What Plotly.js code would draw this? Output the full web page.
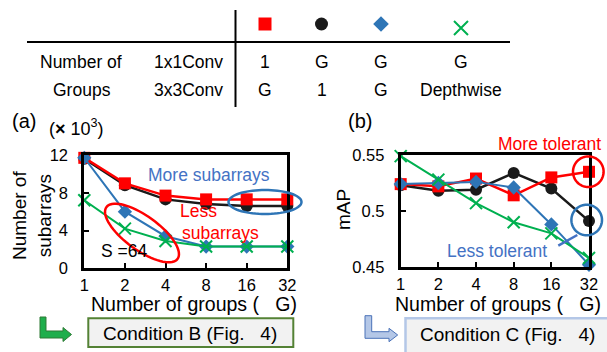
<!DOCTYPE html>
<html>
<head>
<meta charset="utf-8">
<script src="https://cdn.plot.ly/plotly-3.0.1.min.js"></script>
<style>html,body{margin:0;padding:0;background:#fff;}#chart{width:607px;height:352px;}</style>
</head>
<body>
<div id="chart"></div>
<script>
// ---------------- data ----------------
const groups = [1, 2, 4, 8, 16, 32];
const groupTickText = ['1', '2', '4', '8', '16', '32'];

// (a) number of subarrays (x 10^3)
const subarraysRed   = [11.7, 9.0, 7.7, 7.3, 7.3, 7.3];
const subarraysBlack = [11.6, 8.8, 7.3, 6.8, 6.6, 6.6];
const subarraysBlue  = [11.7, 6.0, 3.4, 2.3, 2.3, 2.3];
const subarraysGreen = [7.2, 4.2, 2.9, 2.3, 2.3, 2.3];
const subarrayTicks  = [0, 4, 8, 12];

// (b) mAP
const mapRed   = [0.524, 0.522, 0.529, 0.514, 0.530, 0.535];
const mapBlack = [0.523, 0.518, 0.519, 0.534, 0.520, 0.491];
const mapBlue  = [0.524, 0.525, 0.526, 0.521, 0.488, 0.452];
const mapGreen = [0.549, 0.528, 0.507, 0.490, 0.480, 0.458];
const mapTicks     = [0.45, 0.5, 0.55];
const mapTickText  = ['0.45', '0.5', '0.55'];

// configuration table
const rowLabels   = ['Number of', 'Groups'];
const convLabels  = ['1x1Conv', '3x3Conv'];
const groups1x1   = ['1', 'G', 'G', 'G'];
const groups3x3   = ['G', '1', 'G', 'Depthwise'];

// ---------------- layout helpers ----------------
const W = 607, H = 352;
const px = x => x / W;
const py = y => 1 - y / H;
const FONT = 'Liberation Sans, Arial, sans-serif';

const RED = '#ff0000', BLACK = '#1a1a1a', BLUE = '#2e75b6', GREEN = '#00b050', TXTBLUE = '#4472c4';

const styles = [
  {name: 'red',   color: RED,   symbol: 'square',  size: 12, lw: 2.5},
  {name: 'black', color: BLACK, symbol: 'circle',  size: 12, lw: 2.5},
  {name: 'blue',  color: BLUE,  symbol: 'diamond', size: 11, lw: 2},
  {name: 'green', color: GREEN, symbol: 'x-thin',  size: 12, lw: 2}
];
const drawOrder = [1, 0, 2, 3];

function markerFor(s, size) {
  if (s.symbol === 'x-thin') return {symbol: 'x-thin', size: size, color: s.color, line: {color: s.color, width: 2}};
  return {symbol: s.symbol, size: size, color: s.color, line: {width: 0}};
}

const subSeries = [subarraysRed, subarraysBlack, subarraysBlue, subarraysGreen];
const mapSeries = [mapRed, mapBlack, mapBlue, mapGreen];

const traces = [];
drawOrder.forEach(i => {
  const s = styles[i];
  traces.push({x: groups, y: subSeries[i], type: 'scatter', mode: 'lines+markers', xaxis: 'x', yaxis: 'y',
    line: {color: s.color, width: s.lw}, marker: markerFor(s, s.size), cliponaxis: false, showlegend: false, hoverinfo: 'skip'});
});
drawOrder.forEach(i => {
  const s = styles[i];
  traces.push({x: groups, y: mapSeries[i], type: 'scatter', mode: 'lines+markers', xaxis: 'x2', yaxis: 'y2',
    line: {color: s.color, width: s.lw}, marker: markerFor(s, s.size), cliponaxis: false, showlegend: false, hoverinfo: 'skip'});
});

// table key markers (on a hidden pixel axis)
const colX = [265, 321.5, 381, 461];
const keyY = [24, 24, 24, 28];
const keySize = [13, 13, 12, 14];
styles.forEach((s, i) => {
  traces.push({x: [colX[i]], y: [keyY[i]], type: 'scatter', mode: 'markers', xaxis: 'x3', yaxis: 'y3',
    marker: markerFor(s, keySize[i]), cliponaxis: false, showlegend: false, hoverinfo: 'skip'});
});

// ---------------- shapes ----------------
function polyPath(pts) {
  return 'M' + pts.map(p => px(p[0]).toFixed(5) + ',' + py(p[1]).toFixed(5)).join('L') + 'Z';
}
function ellipsePath(cx, cy, a, b, deg) {
  const th = deg * Math.PI / 180, pts = [];
  for (let k = 0; k < 72; k++) {
    const t = 2 * Math.PI * k / 72;
    pts.push([cx + a * Math.cos(th) * Math.cos(t) - b * Math.sin(th) * Math.sin(t),
              cy + a * Math.sin(th) * Math.cos(t) + b * Math.cos(th) * Math.sin(t)]);
  }
  return polyPath(pts);
}
const shapes = [
  // table lines
  {type: 'line', xref: 'paper', yref: 'paper', x0: px(27), x1: px(510), y0: py(42), y1: py(42), line: {color: '#000', width: 2}},
  {type: 'line', xref: 'paper', yref: 'paper', x0: px(235.5), x1: px(235.5), y0: py(10), y1: py(107), line: {color: '#000', width: 2}},
  // highlight ellipses
  {type: 'path', xref: 'paper', yref: 'paper', path: ellipsePath(142, 233, 44, 17, 36), line: {color: RED, width: 2.5}},
  {type: 'path', xref: 'paper', yref: 'paper', path: ellipsePath(265, 202, 36.5, 12, 0), line: {color: BLUE, width: 2.5}},
  {type: 'path', xref: 'paper', yref: 'paper', path: ellipsePath(588.3, 171.7, 15.3, 15.3, 0), line: {color: RED, width: 2.5}},
  {type: 'path', xref: 'paper', yref: 'paper', path: ellipsePath(586.7, 220, 15.3, 15.3, 0), line: {color: BLUE, width: 2.5}},
  {type: 'line', xref: 'paper', yref: 'paper', x0: px(577.3), y0: py(235), x1: px(558.3), y1: py(245.7), line: {color: TXTBLUE, width: 2.5}},
  // condition boxes
  {type: 'rect', xref: 'paper', yref: 'paper', x0: px(88.3), x1: px(293.3), y0: py(347), y1: py(318.3), line: {color: '#548235', width: 2}, fillcolor: '#f2f2f2', layer: 'below'},
  {type: 'rect', xref: 'paper', yref: 'paper', x0: px(405.5), x1: px(615), y0: py(356), y1: py(318.3), line: {color: '#b4c7e7', width: 2.5}, fillcolor: '#f2f2f2', layer: 'below'},
  // arrows
  {type: 'path', xref: 'paper', yref: 'paper', fillcolor: '#1fae4c', line: {color: '#2f7a35', width: 1},
   path: polyPath([[40,317],[46,317],[46,331],[63,331],[63,327.5],[71.5,334.5],[63,341.5],[63,338],[40,338]])},
  {type: 'path', xref: 'paper', yref: 'paper', fillcolor: '#b4c7e7', line: {color: '#4a72b8', width: 1},
   path: polyPath([[365,315.7],[371.7,315.7],[371.7,331.7],[389,331.7],[389,328.3],[397.7,335],[389,341.7],[389,338.3],[365,338.3]])}
];

// ---------------- annotations ----------------
function ann(text, x, y, size, color, extra) {
  return Object.assign({text: text, xref: 'paper', yref: 'paper', x: px(x), y: py(y), xanchor: 'center', yanchor: 'middle',
    showarrow: false, font: {family: FONT, size: size, color: color || '#000'}}, extra || {});
}
const NB = '\u00a0';
const annotations = [
  ann(rowLabels[0], 80.5, 62, 17.5),
  ann(rowLabels[1], 81.5, 90, 17.5),
  ann(convLabels[0], 188, 62, 17.5),
  ann(convLabels[1], 188, 90, 17.5)
];
colX.forEach((cx, i) => {
  annotations.push(ann(groups1x1[i], cx, 62, 17.5));
  annotations.push(ann(groups3x3[i], cx, 90, 17.5));
});
annotations.push(
  ann('(a)', 24, 121, 20),
  ann('(<b>×</b> 10<sup>3</sup>)', 76, 127, 18),
  ann('(b)', 360, 121, 20),
  ann('Number of<br>subarrays', 32, 216, 19, '#000', {textangle: -90}),
  ann('mAP', 343, 210, 19, '#000', {textangle: -90}),
  ann('Number of groups (' + NB + NB + NB + 'G)', 193.5, 304, 19.5),
  ann('Number of groups (' + NB + NB + NB + 'G)', 498, 304, 19.5),
  ann('More subarrays', 208.5, 175, 17.5, TXTBLUE),
  ann('Less', 198.5, 211, 17.5, RED),
  ann('subarrays', 220, 233, 17.5, RED),
  ann('S =64', 124, 251, 17.5),
  ann('More tolerant', 549.5, 144, 17.5, RED),
  ann('Less tolerant', 496.5, 251, 17.5, TXTBLUE),
  ann('Condition B (Fig.' + NB + NB + NB + '4)', 190, 333, 19),
  ann('Condition C (Fig.' + NB + NB + NB + '4)', 507, 334, 19)
);

// ---------------- axes ----------------
const frameAxis = {showline: true, mirror: true, linecolor: '#000', linewidth: 3, showgrid: false, zeroline: false,
  ticks: 'inside', ticklen: 5, tickwidth: 2, tickcolor: '#000', tickfont: {family: FONT, size: 16.5, color: '#000'}, fixedrange: true};

const lg = Math.log10;
const layout = {
  width: W, height: H, margin: {l: 0, r: 0, t: 0, b: 0}, paper_bgcolor: '#fff', plot_bgcolor: 'rgba(0,0,0,0)',
  showlegend: false, font: {family: FONT, color: '#000'},
  xaxis: Object.assign({}, frameAxis, {type: 'log', domain: [px(84.3), px(287.3)], range: [lg(groups[0]), lg(groups[groups.length-1])],
    tickvals: groups, ticktext: groupTickText, anchor: 'y', ticklabelstandoff: 0}),
  yaxis: Object.assign({}, frameAxis, {domain: [py(268.3), py(155)], range: [0, 12], tickvals: subarrayTicks, anchor: 'x', ticklabelstandoff: 10}),
  xaxis2: Object.assign({}, frameAxis, {type: 'log', domain: [px(400.7), px(589)], range: [lg(groups[0]), lg(groups[groups.length-1])],
    tickvals: groups, ticktext: groupTickText, anchor: 'y2', ticklabelstandoff: 0}),
  yaxis2: Object.assign({}, frameAxis, {domain: [py(267), py(155)], range: [0.45, 0.55], tickvals: mapTicks, ticktext: mapTickText, anchor: 'x2', ticklabelstandoff: 10}),
  xaxis3: {domain: [0, 1], range: [0, W], visible: false, fixedrange: true, anchor: 'y3'},
  yaxis3: {domain: [0, 1], range: [H, 0], visible: false, fixedrange: true, anchor: 'x3'},
  shapes: shapes,
  annotations: annotations
};

Plotly.newPlot('chart', traces, layout, {displayModeBar: false, staticPlot: true});
</script>
</body>
</html>
